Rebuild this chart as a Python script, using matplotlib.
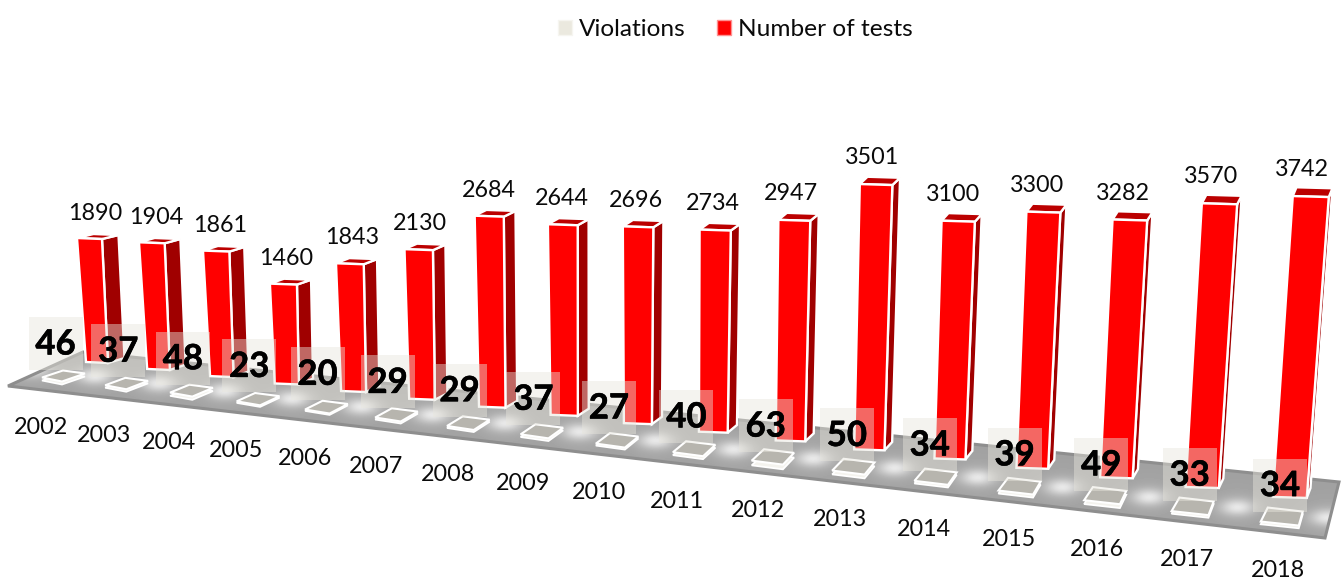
import numpy as np
import matplotlib
matplotlib.use('Agg')
import matplotlib.pyplot as plt
import matplotlib.patheffects as pe
from matplotlib.patches import Patch, Polygon, Rectangle

years = [2002, 2003, 2004, 2005, 2006, 2007, 2008, 2009, 2010,
         2011, 2012, 2013, 2014, 2015, 2016, 2017, 2018]
tests = [1890, 1904, 1861, 1460, 1843, 2130, 2684, 2644, 2696,
         2734, 2947, 3501, 3100, 3300, 3282, 3570, 3742]
violations = [46, 37, 48, 23, 20, 29, 29, 37, 27,
              40, 63, 50, 34, 39, 49, 33, 34]

RED = "#ff0000"
RED_SIDE = "#a00000"
RED_TOP = "#bb0000"
PALE = "#ebe9df"

plt.rcParams["font.family"] = ["Lato", "DejaVu Sans"]

fig = plt.figure(figsize=(13.44, 5.81), dpi=100)
ax = fig.add_axes([0, 0, 1, 1])


# proyeccion del grafico 3D: indice de categoria -> pixel
def base_x(i):
    return 86 + 60.3 * i + 0.867 * i ** 2


def base_y(i):
    return 362 + 0.1137 * (base_x(i) - 86)


def unit_height(i):
    return 0.0656 + 0.000925 * i


def lean(i):
    return -0.00476 + 0.000459 * i + 1.08e-5 * i ** 2


def pad_centre(i):
    x = base_x(i) - 23 + 2 * i
    return x, 378 + 0.1148 * (x - 63)


# suelo con brillos entre las bases
floor = Polygon([(8, 386), (83, 352), (1339, 482), (1325, 538)], closed=True,
                facecolor="none", edgecolor="#8e8e8e", linewidth=2.2, zorder=2)
xx, yy = np.meshgrid(np.arange(1344), np.arange(581))
shade = np.full(xx.shape, 160.0)
for i in np.arange(-0.5, 17):
    px, py = pad_centre(i)
    shade += 62 * np.exp(-((xx - px) / 17.0) ** 2 - ((yy - py + 6) / 8.0) ** 2)
    shade += 10 * np.exp(-((xx - px) / 30.0) ** 2 - ((yy - py + 6) / 20.0) ** 2)
shade = np.clip(shade, 0, 235)
ax.add_patch(floor)
img = ax.imshow(shade, cmap="gray", vmin=0, vmax=255, extent=(0, 1344, 581, 0),
                aspect="auto", zorder=1)
img.set_clip_path(floor)

# bases de Violations
for i, v in enumerate(violations):
    t = i / 16
    cx, cy = pad_centre(i)
    corners = [(-21, 1 + 4 * t), (-14 * t, -6 - 3 * t), (22 - t, -3 - 2 * t), (-1 + 18 * t, 5 + 4 * t)]
    thick = v * unit_height(i)
    top = [(cx + a, cy + b - thick / 2) for a, b in corners]
    low = [(cx + a, cy + b + thick / 2) for a, b in corners]
    ax.add_patch(Polygon(low, closed=True, facecolor="#f4f3ee", edgecolor="white", linewidth=1.3, zorder=2.5))
    ax.add_patch(Polygon(top, closed=True, facecolor="#b7b5ae", edgecolor="white", linewidth=1.5, zorder=2.6))

# barras de Number of tests
for i, v in enumerate(tests):
    t = i / 16
    x0 = base_x(i)
    y0 = base_y(i)
    h = v * unit_height(i)
    w = 22 + 12 * t
    w_top = w + 3 - t
    x_top = x0 + lean(i) * v
    dx = 16.5 - 0.8 * i
    dy = -4 - 0.3 * i
    front = [(x0, y0), (x0 + w, y0 + 1), (x_top + w_top, y0 - h + 1), (x_top, y0 - h)]
    side = [(x0 + w, y0 + 1), (x0 + w + dx, y0 + 1 + dy - 1), (x_top + w_top + dx, y0 - h + 1 + dy),
            (x_top + w_top, y0 - h + 1)]
    cap = [(x_top, y0 - h), (x_top + w_top, y0 - h + 1), (x_top + w_top + dx, y0 - h + 1 + dy),
           (x_top + dx, y0 - h + dy)]
    ax.add_patch(Polygon(side, closed=True, facecolor=RED_SIDE, edgecolor="white", linewidth=1.7, zorder=3))
    ax.add_patch(Polygon(cap, closed=True, facecolor=RED_TOP, edgecolor="white", linewidth=1.7, zorder=3))
    ax.add_patch(Polygon(front, closed=True, facecolor=RED, edgecolor="white", linewidth=1.7, zorder=3.1))
    ax.text(x_top + 18 - 9 * t, y0 - h + dy - 21 + 0.2 * i, str(v), ha="center", va="center",
            fontsize=16.8, color="#0a0a0a", zorder=7)

# etiquetas de Violations con caja semitransparente
for i, v in enumerate(violations):
    cx = 55.5 + 61.84 * i + 0.918 * i ** 2
    cy = 343.5 + 0.1156 * (cx - 55.5)
    ax.add_patch(Rectangle((cx - 27, cy - 26.5), 54, 53, facecolor="#e8e6dd", alpha=0.45,
                           edgecolor="none", zorder=5))
    ax.text(cx, cy + 1, str(v), ha="center", va="center", fontsize=25, fontweight="bold",
            color="black", zorder=6,
            path_effects=[pe.withStroke(linewidth=0.4, foreground="black")])

# etiquetas de anios
for i, year in enumerate(years):
    lx = 41 + 62.2 * i + 0.945 * i ** 2
    ly = 428 + 0.1148 * (lx - 41)
    ax.text(lx, ly, str(year), ha="center", va="center", fontsize=16.8, color="#0a0a0a", zorder=7)

handles = [Patch(facecolor=PALE, edgecolor="#f6f5f0", label="Violations"),
           Patch(facecolor=RED, edgecolor="#ff9090", label="Number of tests")]
ax.legend(handles=handles, loc="center", bbox_to_anchor=(735.5, 30), bbox_transform=ax.transData,
          ncol=2, frameon=False, fontsize=17.6, handlelength=0.55, handleheight=0.55,
          handletextpad=0.3, columnspacing=1.3, labelcolor="#0a0a0a")

ax.set_xlim(0, 1344)
ax.set_ylim(581, 0)
ax.axis("off")

plt.savefig("out.png", dpi=100)
plt.close()
